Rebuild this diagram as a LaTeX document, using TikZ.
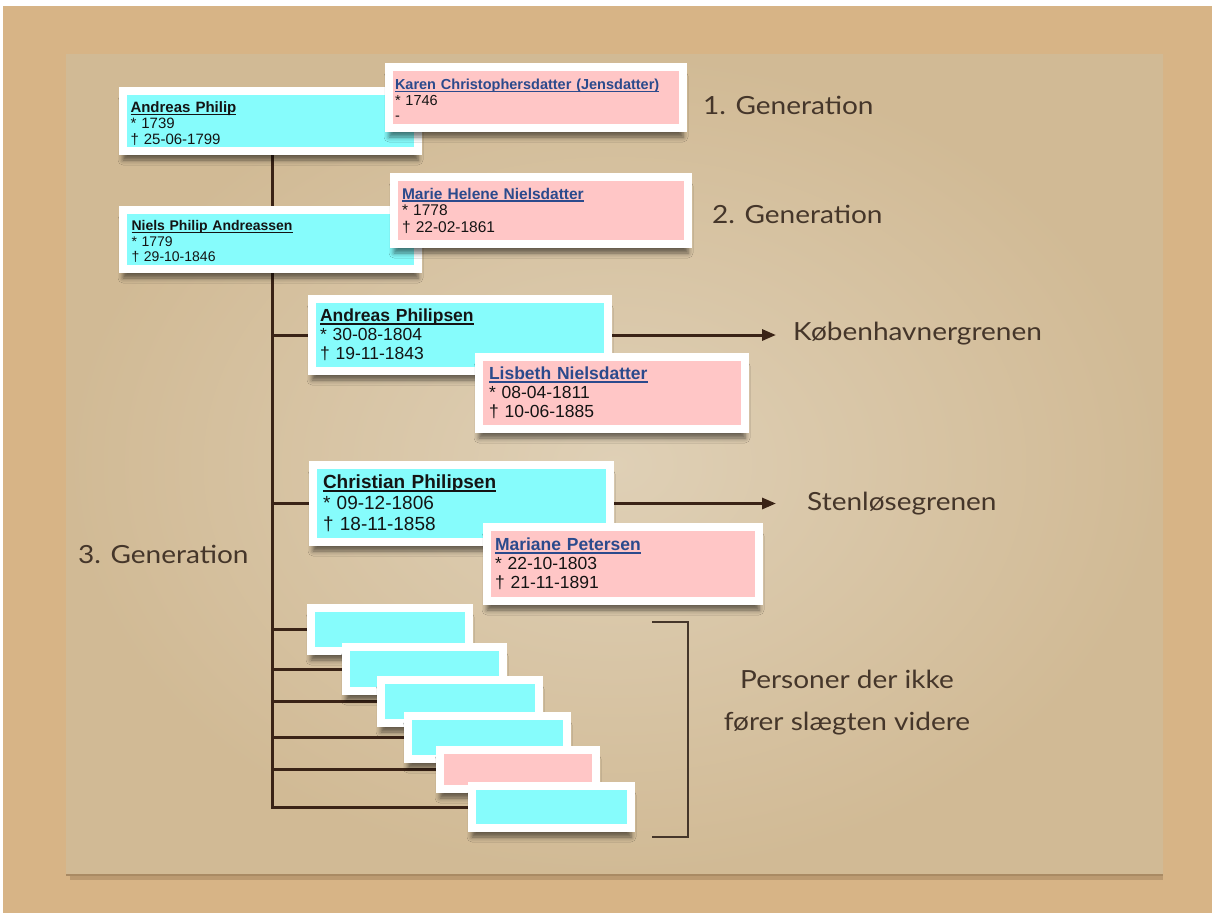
\documentclass[tikz,border=0pt]{standalone}
\usepackage{fontspec}
\newfontfamily\boxfont{Liberation Sans}
\newfontfamily\lblfont[FakeStretch=1.12]{Lato}
\usetikzlibrary{arrows.meta,shadows.blur}
\definecolor{outerbg}{HTML}{D7B486}
\definecolor{paperA}{HTML}{DFD0B6}
\definecolor{paperB}{HTML}{D1BA95}
\definecolor{paperedge}{HTML}{A98A63}
\definecolor{cyanbox}{HTML}{86FCFC}
\definecolor{pinkbox}{HTML}{FFC6C6}
\definecolor{linebrown}{HTML}{3A2316}
\definecolor{lbl}{HTML}{45362A}
\definecolor{nameblue}{HTML}{2B4A8C}
\definecolor{txt}{HTML}{141414}
\newcommand\nmline[1]{\setbox0\hbox{#1}\rlap{\rule[-0.16em]{\wd0}{0.075em}}\box0}
\pgfdeclarelayer{bg}
\pgfdeclarelayer{lines}
\pgfsetlayers{bg,lines,main}
\tikzset{
  card/.style={draw=white, line width=8pt, inner xsep=0pt, inner ysep=0pt, align=left, text=txt,
    blur shadow={shadow xshift=0pt, shadow yshift=-9pt, shadow blur radius=5pt, shadow opacity=55}},
  male/.style={card, fill=cyanbox},
  female/.style={card, fill=pinkbox},
  trunkline/.style={draw=linebrown, line width=3pt},
  branchline/.style={draw=linebrown, line width=3pt, -{Triangle[length=14pt,width=11pt]}},
  bracketline/.style={draw=lbl, line width=1.3pt},
  gen/.style={font=\lblfont\fontsize{25}{30}\selectfont, text=lbl, inner sep=0pt},
}
\begin{document}
\begin{tikzpicture}[x=1pt, y=-1pt]
\useasboundingbox (0,0) rectangle (1212,913);

% ---------- cards ----------
\node[male, minimum width=295pt, minimum height=60pt, text width=280pt,
      font=\boxfont\fontsize{15}{16}\selectfont] (A1) at (270.5,121)
  {{\bfseries\rule{0pt}{1.05em}\nmline{Andreas Philip}}\\{}* 1739\\{}† 25-06-1799};
\node[female, minimum width=294pt, minimum height=61pt, text width=282pt,
      font=\boxfont\fontsize{14.5}{15.5}\selectfont] (K1) at (536,97.5)
  {{\bfseries\color{nameblue}\rule{0pt}{1.05em}\nmline{Karen Christophersdatter (Jensdatter)}}\\{}* 1746\\{}-};
\node[male, minimum width=295pt, minimum height=59pt, text width=278pt,
      font=\boxfont\fontsize{14}{15.5}\selectfont] (N2) at (270.5,239.5)
  {{\bfseries\rule{0pt}{1.05em}\nmline{Niels Philip Andreassen}}\\{}* 1779\\{}† 29-10-1846};
\node[female, minimum width=294pt, minimum height=67pt, text width=278pt,
      font=\boxfont\fontsize{15.5}{16.5}\selectfont] (M2) at (541,210.5)
  {{\bfseries\color{nameblue}\nmline{Marie Helene Nielsdatter}}\\{}* 1778\\{}† 22-02-1861};
\node[male, minimum width=296pt, minimum height=72pt, text width=280pt,
      font=\boxfont\fontsize{17.5}{19}\selectfont] (AP) at (460,335)
  {{\bfseries\nmline{Andreas Philipsen}}\\{}* 30-08-1804\\{}† 19-11-1843};
\node[female, minimum width=266pt, minimum height=72pt, text width=246pt,
      font=\boxfont\fontsize{17.5}{19}\selectfont] (LN) at (612,393)
  {{\bfseries\color{nameblue}\nmline{Lisbeth Nielsdatter}}\\{}* 08-04-1811\\{}† 10-06-1885};
\node[male, minimum width=297pt, minimum height=77pt, text width=277pt,
      font=\boxfont\fontsize{19}{21}\selectfont] (CP) at (461.5,503.5)
  {{\bfseries\nmline{Christian Philipsen}}\\{}* 09-12-1806\\{}† 18-11-1858};
\node[female, minimum width=272pt, minimum height=74pt, text width=256pt,
      font=\boxfont\fontsize{17.5}{19}\selectfont] (MP) at (623,564)
  {{\bfseries\color{nameblue}\nmline{Mariane Petersen}}\\{}* 22-10-1803\\{}† 21-11-1891};

\node[male, minimum width=158pt, minimum height=43pt] (S1) at (390,629.5) {};
\node[male, minimum width=157pt, minimum height=44pt] (S2) at (424.5,669) {};
\node[male, minimum width=158pt, minimum height=43pt] (S3) at (460,701.5) {};
\node[male, minimum width=159pt, minimum height=43pt] (S4) at (487.5,737.5) {};
\node[female, minimum width=156pt, minimum height=39pt] (S5) at (518,769.5) {};
\node[male, minimum width=159pt, minimum height=42pt] (S6) at (551.5,807) {};

% ---------- labels ----------
\node[gen, anchor=base west] (G1) at (703,114) {1. Generation};
\node[gen, anchor=base west] (G2) at (712,223) {2. Generation};
\node[gen, anchor=base west] (G3) at (78,563) {3. Generation};
\node[gen, anchor=base west] (KBH) at (793,340) {Københavnergrenen};
\node[gen, anchor=base west] (STL) at (807,510) {Stenløsegrenen};
\node[gen, align=center, font=\lblfont\fontsize{25}{42}\selectfont] (PER) at (847,703)
  {Personer der ikke\\fører slægten videre};

\coordinate (T) at (272,0);
\coordinate (BrT) at (652,622);
\coordinate (BrB) at (652,837);

% ---------- background ----------
\begin{pgfonlayer}{bg}
  \fill[outerbg] (0,0) rectangle (1212,913);
  \fill[white] (0,0) rectangle (1212,6);
  \fill[white] (0,0) rectangle (3,913);
  \fill[paperedge, opacity=0.6] (70,872) rectangle (1163,880);
  \shade[inner color=paperA, outer color=paperB] (66,54) rectangle (1163,875);
  \draw[paperedge, line width=1.5pt] (66,875) -- (1163,875);
\end{pgfonlayer}

% ---------- connectors ----------
\begin{pgfonlayer}{lines}
  \draw[trunkline] (A1.south -| T) -- (N2.north -| T);
  \draw[trunkline] (N2.south -| T) -- (T |- S6.west) -- (S6.west);
  \draw[trunkline] (T |- AP.west) -- (AP.west);
  \draw[trunkline] (T |- CP.west) -- (CP.west);
  \draw[trunkline] (T |- S1.west) -- (S1.west);
  \draw[trunkline] (T |- S2.west) -- (S2.west);
  \draw[trunkline] (T |- S3.west) -- (S3.west);
  \draw[trunkline] (T |- S4.west) -- (S4.west);
  \draw[trunkline] (T |- S5.west) -- (S5.west);
  \draw[branchline, shorten >=17pt] (AP.east) -- (AP.east -| KBH.west);
  \draw[branchline, shorten >=31pt] (CP.east) -- (CP.east -| STL.west);
  \draw[bracketline] (BrT) -- ++(36,0) |- (BrB);
\end{pgfonlayer}
\end{tikzpicture}
\end{document}
